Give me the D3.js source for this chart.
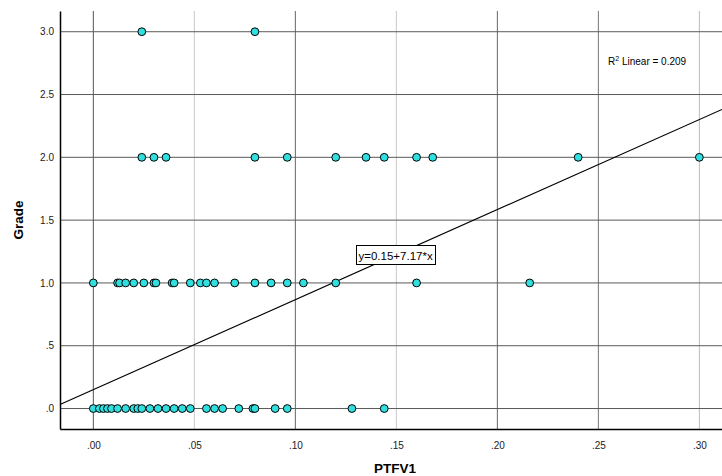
<!DOCTYPE html>
<html>
<head>
<meta charset="utf-8">
<script src="https://cdn.jsdelivr.net/npm/d3@7"></script>
<style>
  html, body { margin: 0; padding: 0; background: #fff; }
  text { font-family: Arial, "Liberation Sans", sans-serif; }
</style>
</head>
<body>
<svg id="chart" width="722" height="476"></svg>
<script>
// Data
const grade0 = [0, 0.003, 0.005, 0.007, 0.009, 0.012, 0.016, 0.020, 0.022, 0.024, 0.028, 0.032, 0.036, 0.040, 0.044, 0.048,
                0.056, 0.060, 0.064, 0.072, 0.079, 0.080, 0.090, 0.096, 0.128, 0.144];
const grade1 = [0, 0.012, 0.013, 0.016, 0.020, 0.025, 0.030, 0.031, 0.039, 0.040, 0.048, 0.053, 0.056, 0.060,
                0.070, 0.080, 0.088, 0.096, 0.104, 0.120, 0.160, 0.216];
const grade2 = [0.024, 0.030, 0.036, 0.080, 0.096, 0.120, 0.135, 0.144, 0.160, 0.168, 0.240, 0.300];
const grade3 = [0.024, 0.080];
const xTicks = [0, 0.05, 0.10, 0.15, 0.20, 0.25, 0.30];
const xTickLabels = [".00", ".05", ".10", ".15", ".20", ".25", ".30"];
const yTicks = [0, 0.5, 1.0, 1.5, 2.0, 2.5, 3.0];
const yTickLabels = [".0", ".5", "1.0", "1.5", "2.0", "2.5", "3.0"];
const intercept = 0.15;
const slope = 7.17;
const r2 = "0.209";

(function () {
const points = [];
[[0, grade0], [1, grade1], [2, grade2], [3, grade3]].forEach(([g, xs]) => xs.forEach(v => points.push({x: v, y: g})));

const svg = d3.select("#chart");
const mLeft = 60, mRight = 722, mTop = 11, mBottom = 429;
const x = d3.scaleLinear().domain([-0.0165, 0.3112]).range([mLeft, mRight]);
const y = d3.scaleLinear().domain([-0.163, 3.165]).range([mBottom, mTop]);

// vertical gridlines (alternating shading as in reference)
const vColors = ["#555", "#c8c8c8", "#666", "#c8c8c8", "#666", "#777", "#bbb"];
svg.append("g").selectAll("line").data(xTicks).join("line")
  .attr("x1", d => x(d)).attr("x2", d => x(d))
  .attr("y1", mTop).attr("y2", mBottom)
  .attr("stroke", (d, i) => vColors[i]).attr("stroke-width", 1);

// horizontal gridlines
svg.append("g").selectAll("line").data(yTicks).join("line")
  .attr("x1", mLeft).attr("x2", mRight)
  .attr("y1", d => y(d)).attr("y2", d => y(d))
  .attr("stroke", "#5a5a5a").attr("stroke-width", 1);

// axes
const xAxis = d3.axisBottom(x).tickValues(xTicks).tickSize(0).tickPadding(13)
  .tickFormat((d, i) => xTickLabels[i]);
const gx = svg.append("g").attr("transform", `translate(0,${mBottom})`).call(xAxis);
gx.select(".domain").attr("stroke", "#000").attr("stroke-width", 1.5);
gx.selectAll("text").attr("font-size", 10).attr("fill", "#222").attr("font-family", "Arial, 'Liberation Sans', sans-serif");

const yAxis = d3.axisLeft(y).tickValues(yTicks).tickSize(0).tickPadding(6)
  .tickFormat((d, i) => yTickLabels[i]);
const gy = svg.append("g").attr("transform", `translate(${mLeft},0)`).call(yAxis);
gy.select(".domain").attr("stroke", "#000").attr("stroke-width", 1.5);
gy.selectAll("text").attr("font-size", 10).attr("fill", "#222").attr("font-family", "Arial, 'Liberation Sans', sans-serif");

// regression line
const x0 = x.domain()[0], x1 = x.domain()[1];
svg.append("line")
  .attr("x1", x(x0)).attr("y1", y(intercept + slope * x0))
  .attr("x2", x(x1)).attr("y2", y(intercept + slope * x1))
  .attr("stroke", "#000").attr("stroke-width", 1.2);

// points
svg.append("g").selectAll("circle").data(points).join("circle")
  .attr("cx", d => x(d.x)).attr("cy", d => y(d.y)).attr("r", 3.9)
  .attr("fill", "#30e0e0").attr("stroke", "#000").attr("stroke-width", 1);

// equation label box
const eq = svg.append("g");
eq.append("rect").attr("x", 356.5).attr("y", 245.5).attr("width", 79).attr("height", 19)
  .attr("fill", "#fff").attr("stroke", "#000").attr("stroke-width", 1);
eq.append("text").attr("x", 358.5).attr("y", 259.5).attr("font-size", 11.5).attr("fill", "#000")
  .text(`y=${intercept.toFixed(2)}+${slope.toFixed(2)}*x`);

// R² label
const rt = svg.append("text").attr("x", 608).attr("y", 65).attr("font-size", 10).attr("fill", "#000");
rt.append("tspan").text("R");
rt.append("tspan").attr("font-size", 7).attr("dy", -4).text("2");
rt.append("tspan").attr("dy", 4).text(" Linear = " + r2);

// axis titles
svg.append("text").attr("x", 395).attr("y", 473).attr("text-anchor", "middle")
  .attr("font-size", 13.5).attr("font-weight", "bold").attr("fill", "#000").text("PTFV1");
svg.append("text").attr("transform", "translate(23,220) rotate(-90)").attr("text-anchor", "middle")
  .attr("font-size", 13.5).attr("font-weight", "bold").attr("fill", "#000").text("Grade");
})();
</script>
</body>
</html>
